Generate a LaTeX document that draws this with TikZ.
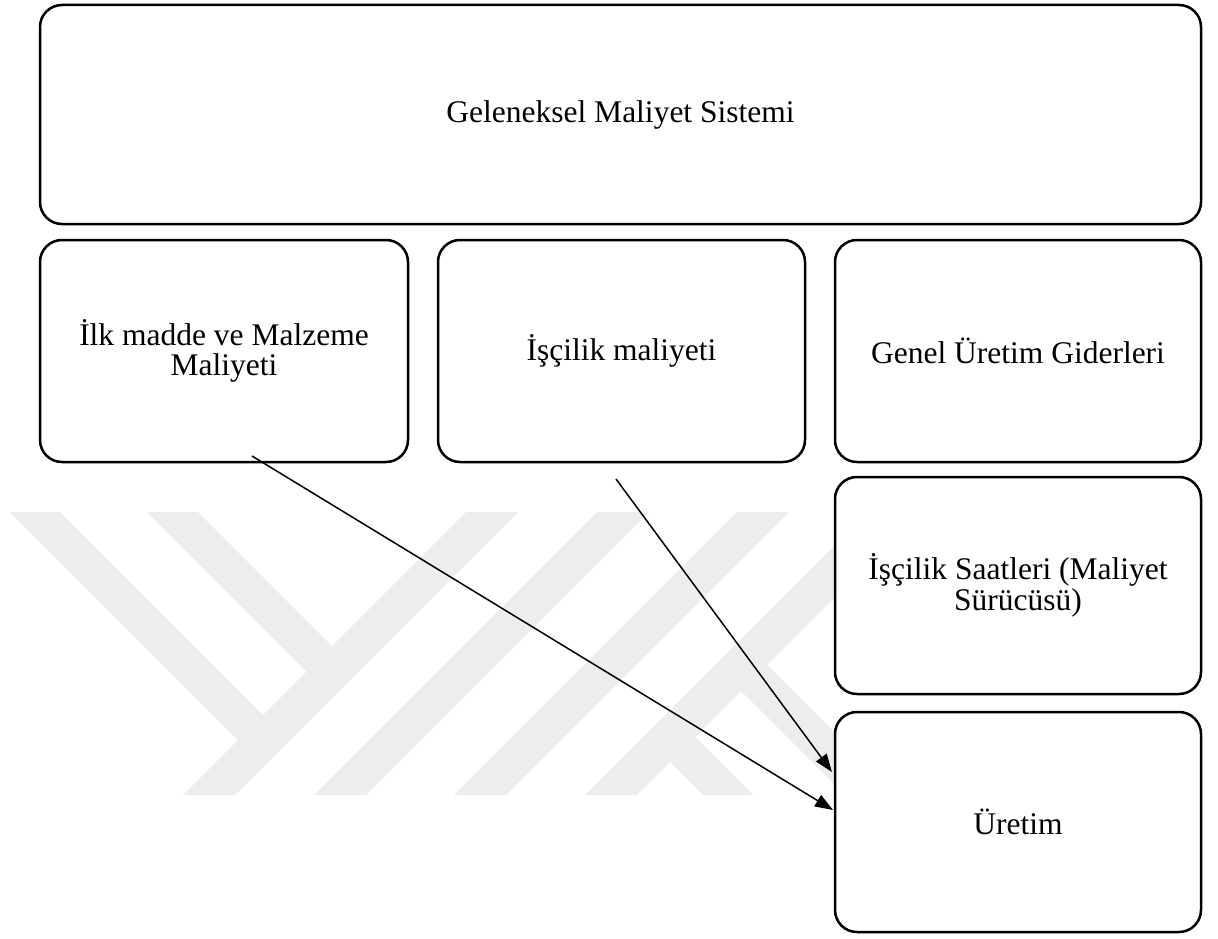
\documentclass[tikz,border=0pt]{standalone}
\usepackage{fontspec}
\setmainfont{Liberation Serif}
\usetikzlibrary{arrows.meta}
\begin{document}
\begin{tikzpicture}[x=1pt,y=-1pt,
  box/.style={draw=black, line width=2.5pt, rounded corners=22pt, fill=white,
    align=center, inner sep=0pt, font=\fontsize{31.5}{30.5}\selectfont},
  wm/.style={fill=black!7, draw=none},
  conn/.style={line width=1.5pt, -{Triangle[length=18pt,width=13pt]}}]
\useasboundingbox (0,0) rectangle (1218,939);
% watermark
\fill[wm] (466,512) -- (518,512) -- (235,795) -- (183,795) -- cycle;
\fill[wm] (597,512) -- (649,512) -- (366,795) -- (314,795) -- cycle;
\fill[wm] (737,512) -- (789,512) -- (506,795) -- (454,795) -- cycle;
\fill[wm] (868,512) -- (920,512) -- (637,795) -- (585,795) -- cycle;
\fill[wm] (10,512) -- (60,512) -- (269,721) -- (244,746) -- cycle;
\fill[wm] (147,512) -- (198,512) -- (338,652) -- (312.5,677.5) -- cycle;
\fill[wm] (761,659) -- (897,795) -- (845,795) -- (735,685) -- cycle;
\fill[wm] (689,731) -- (753,795) -- (703,795) -- (664,756) -- cycle;
% boxes
\node[box, minimum width=1161pt, minimum height=219pt] (top) at (620.5,114.5) {Geleneksel Maliyet Sistemi};
\node[box, minimum width=368pt, minimum height=222pt] (b1) at (224,351) {İlk madde ve Malzeme\\Maliyeti};
\node[box, minimum width=367pt, minimum height=222pt] (b2) at (621.5,351) {İşçilik maliyeti};
\node[box, minimum width=366pt, minimum height=222pt] (b3) at (1018,351) {Genel Üretim Giderleri};
\node[box, minimum width=366pt, minimum height=217pt] (b4) at (1018,585.5) {İşçilik Saatleri (Maliyet\\Sürücüsü)};
\node[box, minimum width=366pt, minimum height=220pt] (b5) at (1018,822) {Üretim};
% connectors
\coordinate (s1) at (252,456);
\coordinate (s2) at (616,479);
\coordinate (e1) at (833,810);
\coordinate (e2) at (832,772);
\draw[conn] (s1) -- (e1);
\draw[conn] (s2) -- (e2);
\end{tikzpicture}
\end{document}
